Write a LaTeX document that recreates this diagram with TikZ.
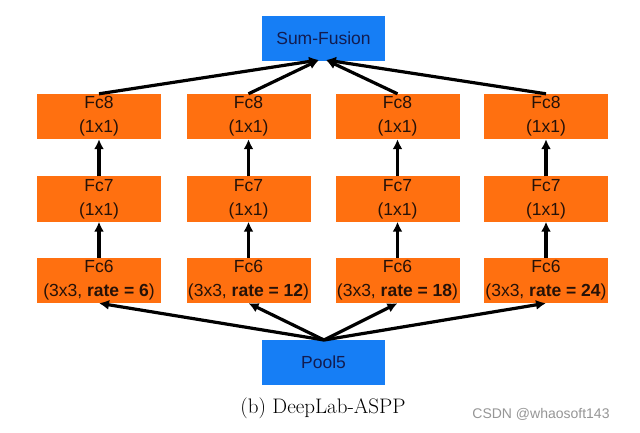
\documentclass[tikz,border=0pt]{standalone}
\usepackage{fontspec}
\setsansfont{Liberation Sans}
\usetikzlibrary{arrows.meta}
\definecolor{boxorange}{RGB}{255,112,16}
\definecolor{boxblue}{RGB}{22,126,245}
\definecolor{bluetext}{RGB}{18,28,80}
\definecolor{orangetext}{RGB}{38,18,8}
\definecolor{marktext}{RGB}{150,150,150}
\tikzset{
  fcbox/.style={fill=boxorange, minimum width=124pt, minimum height=45pt, inner sep=0pt,
    align=center, font=\sffamily\fontsize{17.5}{24}\selectfont, text=orangetext},
  bluebox/.style={fill=boxblue, minimum width=123pt, minimum height=45pt, inner sep=0pt,
    align=center, font=\sffamily\fontsize{17.5}{24}\selectfont, text=bluetext},
  conn/.style={line width=3.2pt, -{Latex[length=10pt,width=10pt]}},
}
\begin{document}
\begin{tikzpicture}[x=1pt,y=-1pt]
\useasboundingbox (0,0) rectangle (640,433);
\fill[white] (0,0) rectangle (640,433);
\node[bluebox] (sum) at (323.5,38.5) {Sum-Fusion};
\node[bluebox] (pool) at (323.5,362.5) {Pool5};
\foreach \i/\x/\r in {1/99/6, 2/248.5/12, 3/397.5/18, 4/546/24} {
  \node[fcbox] (fc8\i) at (\x,116.5) {Fc8\\(1x1)};
  \node[fcbox] (fc7\i) at (\x,199) {Fc7\\(1x1)};
  \node[fcbox] (fc6\i) at (\x,280.5) {Fc6\\(3x3, \textbf{rate = \r})};
}
\coordinate (sumL) at (319,60);
\coordinate (sumR) at (326,60);
\coordinate (poolT) at (324,340);
\foreach \i in {1,2,3,4} {
  \draw[conn] (fc6\i.north) -- (fc7\i.south);
  \draw[conn] (fc7\i.north) -- (fc8\i.south);
  \draw[conn] (poolT) -- (fc6\i.south);
}
\draw[conn] (fc81.north) -- (sumL);
\draw[conn] (fc82.north) -- (sumL);
\draw[conn] (fc83.north) -- (sumR);
\draw[conn] (fc84.north) -- (sumR);
\node[font=\fontsize{21}{24}\selectfont] (cap) at (323,408) {(b) DeepLab-ASPP};
\node[font=\sffamily\fontsize{14}{16}\selectfont, text=marktext] (mark) at (541,414) {CSDN @whaosoft143};
\end{tikzpicture}
\end{document}
